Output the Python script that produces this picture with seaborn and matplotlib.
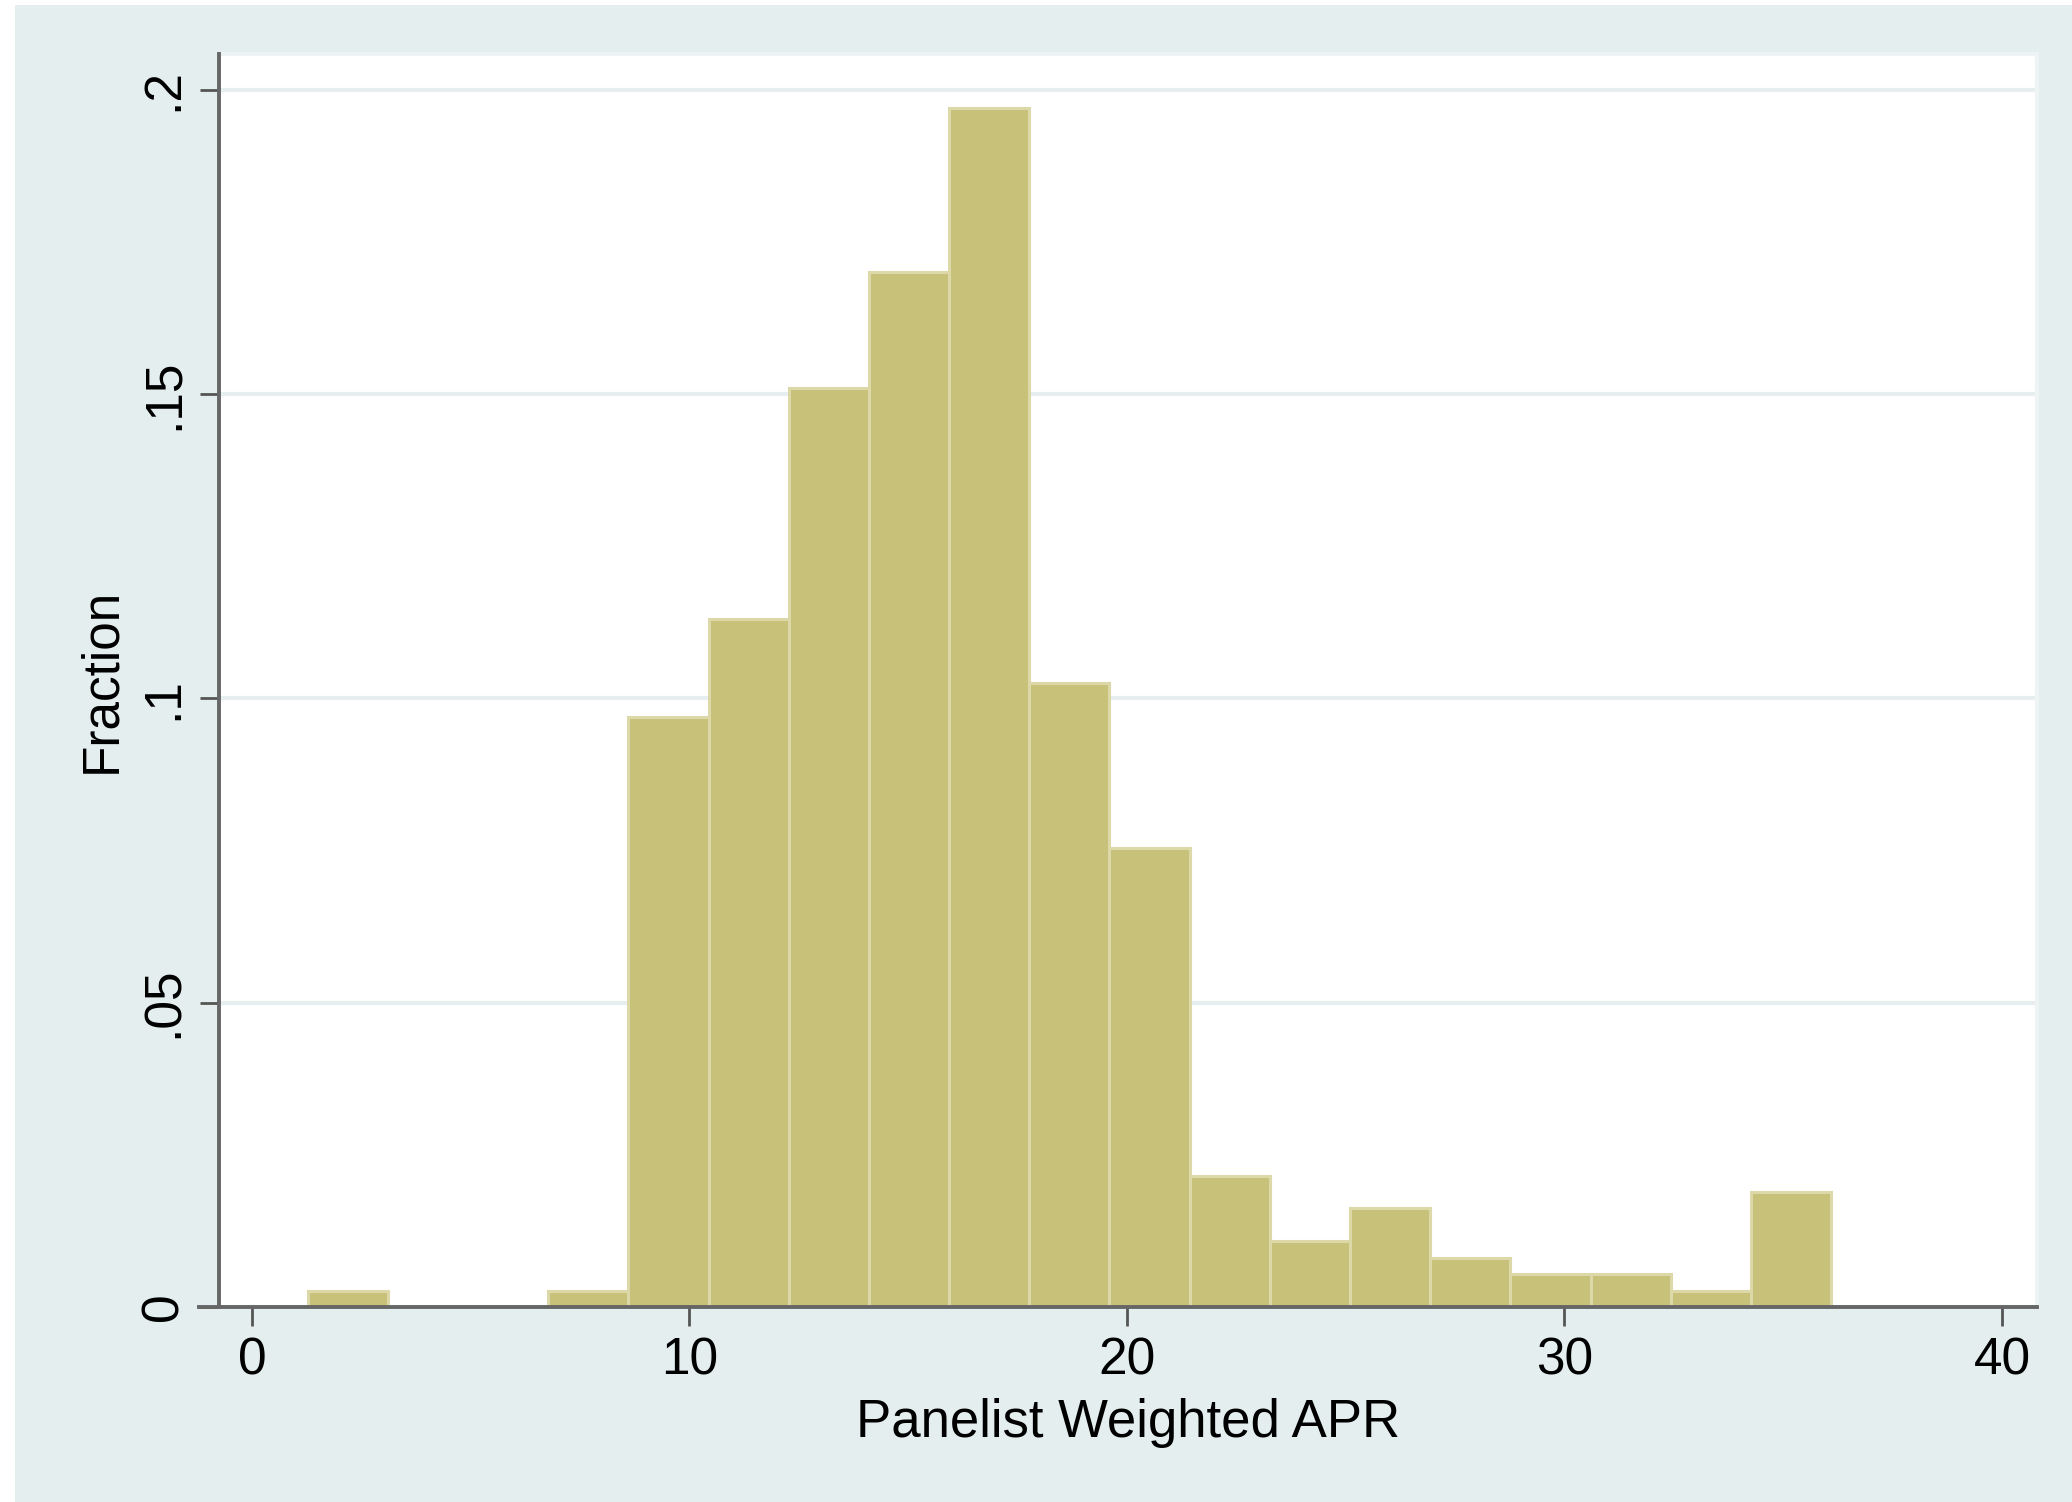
import matplotlib
matplotlib.use("Agg")
import matplotlib.pyplot as plt
from matplotlib.patches import Rectangle
import numpy as np
import pandas as pd
import seaborn as sns

# histogram: 19 bins of equal width
bin_start = 1.27
bin_width = 1.833
fractions = [0.0027, 0.0, 0.0, 0.0027, 0.097, 0.113, 0.151, 0.170, 0.197,
             0.1025, 0.0755, 0.0216, 0.0108, 0.0162, 0.0081, 0.0054, 0.0054,
             0.0027, 0.0189]
x_ticks = [0, 10, 20, 30, 40]
y_ticks = [0, 0.05, 0.1, 0.15, 0.2]
y_ticklabels = ["0", ".05", ".1", ".15", ".2"]

bin_edges = list(bin_start + bin_width * np.arange(len(fractions) + 1))
df = pd.DataFrame({
    "apr": [(bin_edges[i] + bin_edges[i + 1]) / 2 for i in range(len(fractions))],
    "frac": fractions,
})

sns.set_theme(style="white")
plt.rcParams["font.family"] = ["Liberation Sans", "DejaVu Sans"]

bg = "#E4EEEF"
fig = plt.figure(figsize=(20.72, 15.02), dpi=100, facecolor="white")
# stata graph region (thin white border at left/top)
fig.add_artist(Rectangle((15 / 2072, 0), 1, 1 - 5 / 1502, transform=fig.transFigure,
                         facecolor=bg, edgecolor="none", zorder=-10))
ax = fig.add_axes([219 / 2072, 1 - 1307 / 1502, (2037 - 219) / 2072, (1307 - 54) / 1502])
ax.set_facecolor("white")

sns.histplot(data=df, x="apr", weights="frac", bins=bin_edges, stat="count",
             color="#C8C17A", edgecolor="#DDD8A8", linewidth=2.2, alpha=1, ax=ax)

ax.set_xlim(-0.754, 40.8)
ax.set_ylim(0, 0.2059)
ax.set_xticks(x_ticks)
ax.set_xticklabels([str(t) for t in x_ticks])
ax.set_yticks(y_ticks)
ax.set_yticklabels(y_ticklabels)
plt.setp(ax.get_yticklabels(), rotation=90, va="center")

ax.set_axisbelow(True)
ax.yaxis.grid(True, color="#E6EEF0", linewidth=3)
ax.xaxis.grid(False)

for s in ["left", "bottom"]:
    ax.spines[s].set_color("#666666")
    ax.spines[s].set_linewidth(2.8)
    ax.spines[s].set_zorder(5)
ax.spines["bottom"].set_bounds(-1.21, 40.8)
for s in ["top", "right"]:
    ax.spines[s].set_color("#EEF3F4")
    ax.spines[s].set_linewidth(3)

ax.tick_params(axis="x", length=14, width=2, color="#555555", pad=7,
               labelsize=37, labelcolor="black", bottom=True)
ax.tick_params(axis="y", length=14, width=2, color="#555555", pad=8,
               labelsize=37, labelcolor="black", left=True)

ax.set_xlabel("Panelist Weighted APR", fontsize=38, color="black")
ax.set_ylabel("Fraction", fontsize=37, color="black")
ax.xaxis.set_label_coords(0.5, -0.073)
ax.yaxis.set_label_coords(-0.051, 0.5)

fig.savefig("out.png", dpi=100, facecolor=fig.get_facecolor())
